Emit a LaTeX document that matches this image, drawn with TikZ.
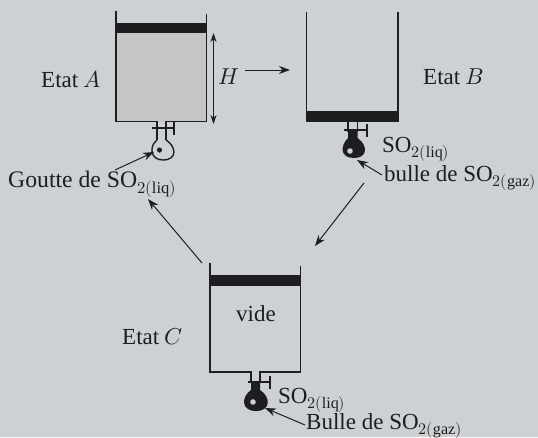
\documentclass[tikz,border=0pt]{standalone}
\usepackage{fontspec}
\setmainfont{Liberation Serif}
\usepackage{unicode-math}
\setmathfont{Latin Modern Math}
\usetikzlibrary{arrows.meta}
\definecolor{qback}{RGB}{205,209,212}
\definecolor{qgrey}{RGB}{198,198,198}
\definecolor{qblack}{RGB}{30,30,32}
\tikzset{
wall/.style={line width=1.4,color=qblack},
piston/.style={fill=qblack,draw=none},
flow/.style={line width=1,color=qblack,-{Stealth[length=11,width=8]}},
lbl/.style={font=\fontsize{23}{26}\selectfont,inner sep=0,anchor=base west,text=qblack},
}
\begin{document}
\begin{tikzpicture}[x=1pt,y=-1pt]
\useasboundingbox[fill=qback] (0,0) rectangle (538,437);

% etat A
\fill[qgrey] (116,33) rectangle (206.5,121.5);
\draw[wall] (116,11) -- (116,121.5) -- (157,121.5) -- (157,140);
\draw[wall] (206.5,14) -- (206.5,121.5) -- (166,121.5) -- (166,140);
\fill[piston] (115.5,23) rectangle (207,33);
\draw[wall] (152,128) -- (174,128);
\draw[wall] (174,121.5) -- (174,135);
\draw[wall] (157,140) .. controls (149,146) and (150,160) .. (163,160) .. controls (178,160) and (176,146) .. (166,140);
\fill[qblack] (159.5,150) circle (2.6);
\draw[line width=1,color=qblack,{Stealth[length=9,width=6]}-{Stealth[length=9,width=6]}] (213.5,33) -- (213.5,124);

% etat B
\draw[wall] (306.5,12) -- (306.5,122);
\draw[wall] (398,12) -- (398,122);
\fill[piston] (306,111) rectangle (398.5,122);
\draw[wall] (348,122) -- (348,132);
\draw[wall] (357.5,122) -- (357.5,132);
\draw[wall] (344,130) -- (367,130);
\draw[wall] (367,124) -- (367,137);
\fill[qblack] (348,130) -- (357.5,130) -- (357.5,138) .. controls (368,145) and (368,158) .. (354,158) .. controls (340,158) and (340,146) .. (348,138) -- cycle;
\fill[qback] (350,151) circle (2.8);

% etat C
\draw[wall] (210,263) -- (210,372) -- (251,372) -- (251,382);
\draw[wall] (300.5,266) -- (300.5,372) -- (260,372) -- (260,382);
\fill[piston] (209.5,275) rectangle (301,286);
\draw[wall] (248,382) -- (270,382);
\draw[wall] (270,376) -- (270,389);
\fill[qblack] (251,382) -- (260,382) -- (260,390) .. controls (271,397) and (271,411) .. (256,411) .. controls (241,411) and (241,397) .. (251,390) -- cycle;
\fill[qback] (253,402) circle (2.8);

% textes
\node[lbl] (etatA) at (41,87) {Etat $A$};
\node[lbl] (hauteur) at (218.5,84) {$H$};
\node[lbl] (etatB) at (423,84) {Etat $B$};
\node[lbl] (etatC) at (122,344.5) {Etat $C$};
\node[lbl] (vide) at (236,321) {vide};
\node[lbl,font=\fontsize{23.7}{26}\selectfont] (goutte) at (8,187.5) {Goutte de SO$_{2(\mathrm{liq})}$};
\node[lbl] (liqB) at (382,152) {SO$_{2(\mathrm{liq})}$};
\node[lbl] (bulleB) at (384,181) {bulle de SO$_{2(\mathrm{gaz})}$};
\node[lbl] (liqC) at (278,403) {SO$_{2(\mathrm{liq})}$};
\node[lbl] (bulleC) at (306,429) {Bulle de SO$_{2(\mathrm{gaz})}$};

% fleches
\coordinate (pA) at (154,152);
\coordinate (pB) at (357,160);
\coordinate (pC) at (265,408);
\coordinate (gA) at (115,170);
\coordinate (gB) at (382,175);
\coordinate (gC) at (305,425);
\draw[flow] (gA) -- (pA);
\draw[flow] (gB) -- (pB);
\draw[flow] (gC) -- (pC);
\draw[flow] (245,70) -- (290,70);
\draw[flow] (364,183) -- (315,246);
\draw[flow] (202,263) -- (148,199);
\end{tikzpicture}
\end{document}
